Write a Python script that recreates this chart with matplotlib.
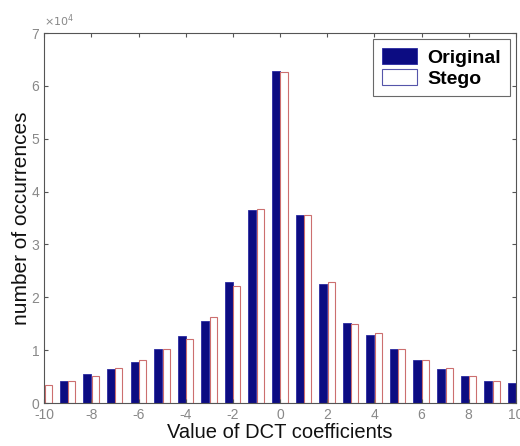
import numpy as np
import matplotlib
matplotlib.use('Agg')
import matplotlib.pyplot as plt

plt.rcParams['font.family'] = ['Liberation Sans', 'DejaVu Sans']
plt.rcParams['axes.unicode_minus'] = False

# DCT coefficient values and histogram counts (x 10^4)
coeffs = list(range(-10, 11))
original = [0.36, 0.42, 0.55, 0.64, 0.78, 1.02, 1.27, 1.55, 2.28, 3.65, 6.28,
            3.55, 2.25, 1.51, 1.29, 1.02, 0.81, 0.65, 0.52, 0.42, 0.37]
stego = [0.35, 0.41, 0.52, 0.67, 0.81, 1.02, 1.22, 1.62, 2.22, 3.67, 6.27,
         3.55, 2.28, 1.49, 1.32, 1.02, 0.81, 0.67, 0.52, 0.42, 0.36]
labels = ['Original', 'Stego']

x = np.array(coeffs)
orig = np.array(original) * 1e4
steg = np.array(stego) * 1e4

fig = plt.figure(figsize=(5.2, 4.46), dpi=100)
ax = fig.add_axes([0.085, 0.0964, 0.907, 0.8296])

ax.bar(x - 0.17, orig, width=0.34, color='#0c0c82', edgecolor='#2a2aa0',
       linewidth=0.6, label=labels[0])
ax.bar(x + 0.17, steg, width=0.3, color='white', edgecolor='#cc6f6f',
       linewidth=0.8, label=labels[1])

ax.set_xlim(-10, 10)
ax.set_ylim(0, 7e4)
ax.set_xticks(range(-10, 11, 2))
ax.set_yticks(np.arange(0, 8) * 1e4)
ax.set_yticklabels([str(i) for i in range(8)])
ax.tick_params(direction='in', top=True, right=True, length=3,
               labelsize=10, labelcolor='#888888', color='#555555')
for s in ax.spines.values():
    s.set_color('#555555')
ax.text(0.0, 1.01, r'$\times 10^4$', transform=ax.transAxes, fontsize=8,
        color='#888888', ha='left', va='bottom')

ax.set_xlabel('Value of DCT coefficients', fontsize=14.5, color='#111111',
              labelpad=1)
ax.set_ylabel('number of occurrences', fontsize=15, color='#111111',
              labelpad=0)

leg = ax.legend(loc='upper right', fontsize=14, frameon=True, fancybox=False,
                borderaxespad=0.3, handlelength=1.8, handleheight=0.95,
                labelspacing=0.1, handletextpad=0.55, borderpad=0.45)
leg.get_frame().set_edgecolor('#444444')
leg.get_frame().set_linewidth(0.8)
for t in leg.get_texts():
    t.set_fontweight('bold')
leg.legend_handles[1].set_edgecolor('#5555aa')

fig.savefig('out.png', dpi=100)
